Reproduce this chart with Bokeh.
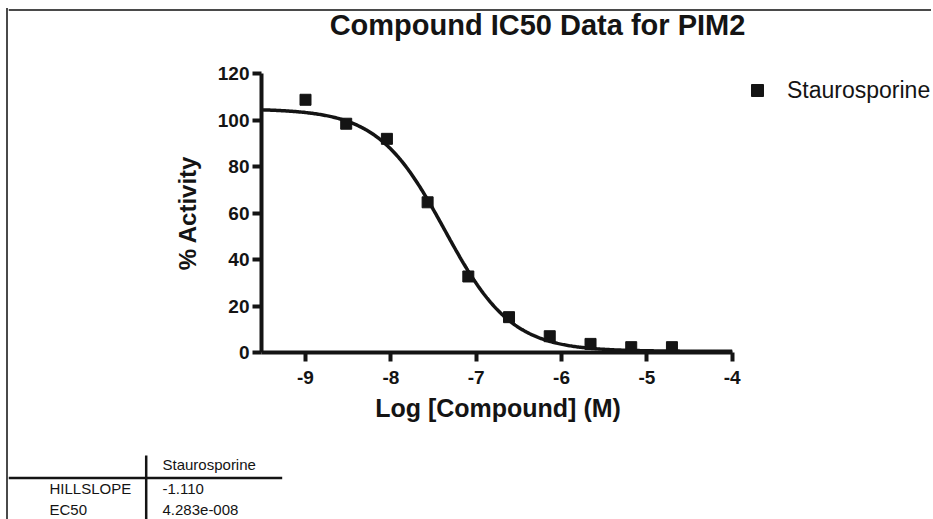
import numpy as np
from bokeh.plotting import figure
from bokeh.models import Range1d, FixedTicker, Legend, LegendItem
from bokeh.embed import file_html
from bokeh.resources import INLINE
from bokeh.core.properties import value

# ---- data ----
log_conc = [-9.0, -8.523, -8.046, -7.569, -7.092, -6.615, -6.138, -5.660, -5.183, -4.706]
activity = [108.7, 98.4, 91.9, 64.6, 32.7, 15.2, 7.0, 3.7, 2.3, 2.3]
series_name = "Staurosporine"
hillslope = -1.110
ec50 = 4.283e-8
fit_top = 104.8
fit_bottom = 0.5
x_ticks = [-9, -8, -7, -6, -5, -4]
y_ticks = [0, 20, 40, 60, 80, 100, 120]
table_rows = ["HILLSLOPE", "EC50"]
table_values = ["-1.110", "4.283e-008"]
chart_title = "Compound IC50 Data for PIM2"
x_title = "Log [Compound] (M)"
y_title = "% Activity"

FONT = "Liberation Sans"
INK = "#141414"
EDGE = "#4a4a4a"
W = 925

X_MIN, X_AXIS_END = -9.5156, -4.0
X_VIEW_END = -1.641   # frame runs on to the right edge so the legend can sit beside the axis

# fitted 4PL curve from the reported parameters
log_ec50 = np.log10(ec50)
curve_x = np.linspace(X_MIN, X_AXIS_END, 400)
curve_y = fit_bottom + (fit_top - fit_bottom) / (1 + 10 ** ((log_ec50 - curve_x) * hillslope))


def blank_fig(h):
    f = figure(width=W, height=h, x_range=Range1d(0, W), y_range=Range1d(h, 0),
               output_backend="svg", toolbar_location=None, min_border=0)
    f.axis.visible = False
    f.grid.grid_line_color = None
    f.outline_line_color = None
    return f


# ---- title strip ----
TT = 42
tf = blank_fig(TT)
tf.segment(x0=[0], y0=[1.5], x1=[W], y1=[1.5], line_color=EDGE, line_width=2)
tf.text(x=[529], y=[16], text=[chart_title], text_font=value(FONT), text_font_size="29px",
        text_font_style="bold", text_color=INK, text_align="center", text_baseline="alphabetic")
tf.styles = {"margin-left": "6px", "margin-top": "8px", "border-left": f"2px solid {EDGE}"}

# ---- chart ----
p = figure(width=W, height=343, x_range=Range1d(X_MIN, X_VIEW_END), y_range=Range1d(0, 120),
           output_backend="svg", toolbar_location=None,
           min_border_left=253, min_border_right=0, min_border_top=23, min_border_bottom=41)
p.outline_line_color = None
p.grid.grid_line_color = None
p.styles = {"margin-left": "6px", "border-left": f"2px solid {EDGE}"}

p.line(curve_x, curve_y, line_color=INK, line_width=3.5)
sc = p.scatter(log_conc, activity, marker="square", size=11, fill_color=INK, line_color=INK)

for ax in (p.xaxis[0], p.yaxis[0]):
    ax.axis_line_width = 4
    ax.axis_line_color = INK
    ax.major_tick_line_width = 4
    ax.major_tick_line_color = INK
    ax.major_tick_out = 9
    ax.major_tick_in = 0
    ax.minor_tick_out = 0
    ax.minor_tick_in = 0
    ax.major_label_text_font = FONT
    ax.major_label_text_font_size = "19px"
    ax.major_label_text_font_style = "bold"
    ax.major_label_text_color = INK
    ax.axis_label_text_font = FONT
    ax.axis_label_text_font_size = "24px"
    ax.axis_label_text_font_style = "bold"
    ax.axis_label_text_color = INK

p.xaxis.bounds = (X_MIN, X_AXIS_END)
p.xaxis.ticker = FixedTicker(ticks=x_ticks)
p.yaxis.ticker = FixedTicker(ticks=y_ticks)
p.xaxis.major_label_overrides = {t: str(t) for t in x_ticks}
p.yaxis.major_label_overrides = {t: str(t) for t in y_ticks}
p.yaxis.axis_label = y_title
p.xaxis.major_label_standoff = 9
p.yaxis.major_label_standoff = 3
p.yaxis.axis_label_standoff = 14

legend = Legend(items=[LegendItem(label=series_name, renderers=[sc])],
                location=(481, 247), glyph_width=30, glyph_height=30, label_standoff=15,
                padding=0, margin=0, spacing=0, border_line_color=None,
                background_fill_alpha=0, label_text_font=FONT, label_text_font_size="23px",
                label_text_color=INK)
p.add_layout(legend, "center")

# ---- x-axis title and parameter table below the chart ----
TH = 126
t = blank_fig(TH)
t.styles = {"margin-left": "6px", "border-left": f"2px solid {EDGE}"}
# x-axis title, centred under the axis span
t.text(x=[489.5], y=[14], text=[x_title], text_font=value(FONT), text_font_size="25px",
       text_font_style="bold", text_color=INK, text_align="center", text_baseline="alphabetic")
t.segment(x0=[0, 137.7], y0=[84.5, 62], x1=[273.7, 137.7], y1=[84.5, TH],
          line_color=INK, line_width=2.5)
t.text(x=[154], y=[71], text=[series_name], text_font=value(FONT), text_font_size="15px",
       text_color=INK, text_baseline="alphabetic")
t.text(x=[41, 41], y=[95, 116], text=table_rows, text_font=value(FONT), text_font_size="15px",
       text_color=INK, text_baseline="alphabetic")
t.text(x=[154, 154], y=[95, 116], text=table_values, text_font=value(FONT), text_font_size="15px",
       text_color=INK, text_baseline="alphabetic")

open("out.html", "w").write(file_html([tf, p, t], INLINE))
